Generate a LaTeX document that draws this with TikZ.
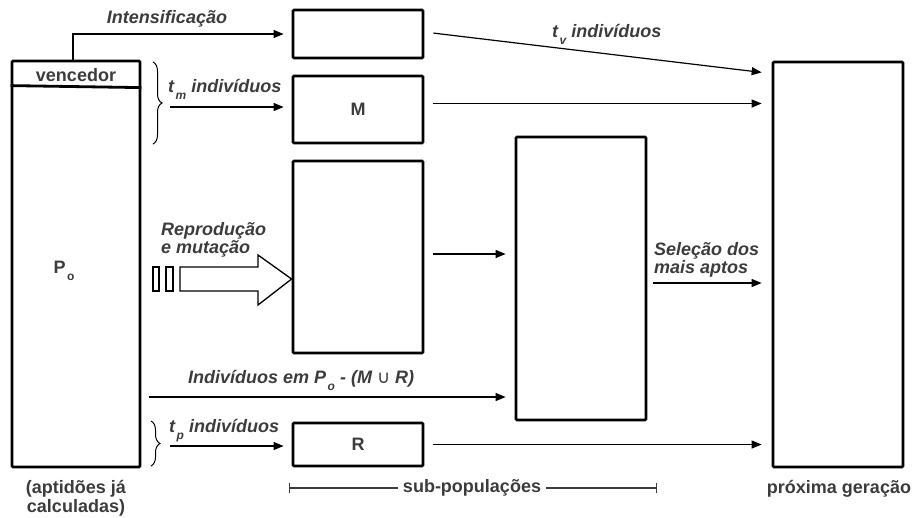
\documentclass[tikz,border=0pt]{standalone}
\usepackage{fontspec}
\setmainfont{Liberation Sans}
\newfontfamily\dejavu{DejaVu Sans}
\usetikzlibrary{arrows.meta,decorations.pathreplacing,calc}
\definecolor{txt}{HTML}{3C3C3C}
\newcommand\sbs[1]{\hspace{1.5pt}\raisebox{-0.75ex}{\fontsize{12}{12}\selectfont #1}}
\begin{document}
\begin{tikzpicture}[x=1pt,y=-1pt,
 box/.style={draw, line width=2.8pt, inner sep=0pt, rounded corners=1pt},
 arr/.style={line width=1.2pt, -{Triangle[length=10pt,width=8pt]}},
 lab/.style={text=txt, font=\fontsize{18}{17.5}\selectfont\bfseries\itshape, inner sep=0pt},
 plain/.style={text=txt, font=\fontsize{18}{19}\selectfont\bfseries, inner sep=0pt},
 brc/.style={decorate, decoration={brace, amplitude=9pt}, line width=1pt},
 hollow/.style={draw, line width=1.3pt, fill=white}
]
\useasboundingbox (0,0) rectangle (913,517);

% boxes
\node[box, minimum width=128, minimum height=406] (P) at (76,264) {};
\node[box, minimum width=130, minimum height=48] (I) at (358,34) {};
\node[box, minimum width=130, minimum height=67] (M) at (358,109.5) {};
\node[box, minimum width=130, minimum height=192] (B) at (358,257) {};
\node[box, minimum width=130, minimum height=43] (R) at (358,444.5) {};
\node[box, minimum width=130, minimum height=283] (S) at (581,278.5) {};
\node[box, minimum width=130, minimum height=405] (N) at (838,264.5) {};

% vencedor divider
\draw[line width=2.8pt] ([yshift=-26pt]P.north west) -- ([yshift=-28pt]P.north east);
\node[plain] (venc) at (76,75) {vencedor};
\node[plain] (Po) at (64,271) {P\sbs{o}};
\node[plain, align=center] (apt) at (76,498) {(aptidões já\\calculadas)};
\node[plain] (Mt) at (M.center) {M};
\node[plain] (Rt) at (R.center) {R};
\node[plain] (prox) at (839,489) {próxima geração};

% intensificacao
\draw[arr, shorten >=8pt] ([xshift=-3pt]P.north) |- (I.west);
\node[lab] (int) at (167,19) {Intensificação};

% t_v
\coordinate (nv) at ([yshift=-13pt]N.north west);
\draw[arr, shorten <=9pt, shorten >=10pt] ([yshift=2pt]I.east) -- (nv);
\node[lab, anchor=base west] (tv) at (552,37) {t\sbs{v} indivíduos};

% M
\draw[arr, shorten <=9pt, shorten >=10pt] ([yshift=6pt]M.east) -- ([yshift=6pt]M.east -| N.west);

% brace t_m
\coordinate (bmt) at (153,62);
\coordinate (bmb) at (153,144);
\draw[brc] (bmt) -- (bmb);
\coordinate (bm) at (170,107);
\draw[arr, shorten >=8pt] (bm) -- (bm -| M.west);
\node[lab, anchor=base west] (tm) at (168,92) {t\sbs{m} indivíduos};

% reproducao
\draw[hollow] (153,267) rectangle (159,291);
\draw[hollow] (166,267) rectangle (173,291);
\draw[hollow] (180,267) -- (258,267) -- (258,255) -- (B.west |- 0,279) -- (258,305) -- (258,291) -- (180,291) -- cycle;
\node[lab, align=left, anchor=west] (rep) at (161,240) {Reprodução\\e mutação};

\draw[arr, shorten <=9pt, shorten >=9pt] ([yshift=3pt]B.east) -- ([yshift=3pt]B.east -| S.west);

% selection
\node[lab, align=left, anchor=west] (sel) at (654,260) {Seleção dos\\mais aptos};
\coordinate (sa) at (653,283);
\draw[arr, shorten >=10pt] (sa) -- (sa -| N.west);

% individuos em Po
\coordinate (ia) at (149,397);
\draw[arr, shorten >=9pt] (ia) -- (ia -| S.west);
\node[lab, anchor=base west] (ind) at (188,383) {Indivíduos em P\sbs{o} - (M {\dejavu\mdseries\upshape ∪} R)};

% brace t_p
\coordinate (bpt) at (151,421);
\coordinate (bpb) at (151,466);
\draw[brc] (bpt) -- (bpb);
\coordinate (bp) at (170,446);
\draw[arr, shorten >=8pt] (bp) -- (bp -| R.west);
\node[lab, anchor=base west] (tp) at (169,432) {t\sbs{p} indivíduos};

\draw[arr, shorten <=9pt, shorten >=10pt] (R.east) -- (R.east -| N.west);

% sub-populacoes
\node[plain, inner sep=5pt] (sp) at (472,488) {sub-populações};
\coordinate (spl) at (289,488);
\coordinate (spr) at (657,488);
\draw[txt, line width=1.3pt, {Bar[width=10pt]}-] (spl) -- (sp.west);
\draw[txt, line width=1.3pt, -{Bar[width=10pt]}] (sp.east) -- (spr);
\end{tikzpicture}
\end{document}
